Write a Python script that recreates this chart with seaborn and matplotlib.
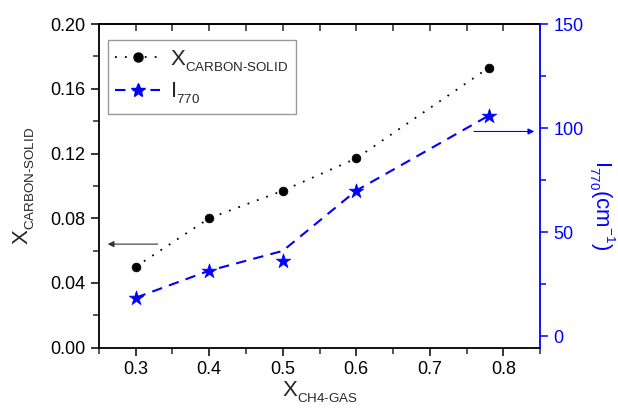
import numpy as np
import pandas as pd
import seaborn as sns
import matplotlib
matplotlib.use("Agg")
import matplotlib.pyplot as plt
from matplotlib.lines import Line2D
from matplotlib.ticker import MultipleLocator, FormatStrFormatter

# smaller, lower subscripts like the reference (Origin style)
try:
    import matplotlib._mathtext as _mt
    _mt.SHRINK_FACTOR = 0.6
    _mt.FontConstantsBase.sub1 = 0.55
    _mt.FontConstantsBase.sub2 = 0.7
    _mt.FontConstantsBase.sup1 = 0.85
except Exception:
    pass

# ---- data ----
x_ch4 = [0.3, 0.4, 0.5, 0.6, 0.78]
x_carbon = [0.050, 0.080, 0.097, 0.117, 0.173]
i770 = [18.5, 31.5, 36.0, 70.0, 106.0]
i770_guide = [18.5, 31.5, 41.0, 70.0, 106.0]   # dashed guide line values

sns.set_style("ticks")
plt.rcParams["font.family"] = ["Liberation Sans", "DejaVu Sans"]
plt.rcParams["mathtext.fontset"] = "custom"
plt.rcParams["mathtext.rm"] = "Liberation Sans"
plt.rcParams["mathtext.it"] = "Liberation Sans"
plt.rcParams["mathtext.bf"] = "Liberation Sans:bold"
plt.rcParams["mathtext.default"] = "regular"

BLUE = "#0000ff"
dot_ls = (0, (1, 4.5))
dash_ls = (0, (5, 3.5))

fig = plt.figure(figsize=(6.18, 4.09), dpi=100)
ax = fig.add_axes([0.160, 0.150, 0.714, 0.791])
ax2 = ax.twinx()

df = pd.DataFrame({"x": x_ch4, "carbon": x_carbon, "i770": i770, "guide": i770_guide})

sns.lineplot(data=df, x="x", y="carbon", ax=ax, color="black", linestyle=dot_ls, lw=1.3)
sns.scatterplot(data=df, x="x", y="carbon", ax=ax, color="black", marker="o", s=40,
                edgecolor="black", linewidth=0.5, zorder=5)
sns.lineplot(data=df, x="x", y="guide", ax=ax2, color=BLUE, linestyle=dash_ls, lw=1.5)
sns.scatterplot(data=df, x="x", y="i770", ax=ax2, color=BLUE, marker="*", s=120,
                edgecolor=BLUE, linewidth=0.5, zorder=5)

# limits & ticks
ax.set_xlim(0.25, 0.85)
ax.set_ylim(0.0, 0.20)
ax2.set_ylim(-5.5, 150)
ax.xaxis.set_major_locator(MultipleLocator(0.1))
ax.xaxis.set_minor_locator(MultipleLocator(0.05))
ax.xaxis.set_major_formatter(FormatStrFormatter("%.1f"))
ax.yaxis.set_major_locator(MultipleLocator(0.04))
ax.yaxis.set_minor_locator(MultipleLocator(0.02))
ax.yaxis.set_major_formatter(FormatStrFormatter("%.2f"))
ax2.yaxis.set_major_locator(MultipleLocator(50))
ax2.yaxis.set_minor_locator(MultipleLocator(25))

ax.tick_params(axis="both", which="major", direction="out", length=6, width=1.1,
               labelsize=13, colors="black")
ax.tick_params(axis="both", which="minor", direction="out", length=4, width=1.1)
ax2.tick_params(axis="y", which="major", direction="out", length=6, width=1.1,
                labelsize=13, colors=BLUE)
ax2.tick_params(axis="y", which="minor", direction="out", length=4, width=1.1, colors=BLUE)

# top axis ticks pointing inward, no labels
sec = ax.secondary_xaxis("top")
sec.xaxis.set_major_locator(MultipleLocator(0.1))
sec.xaxis.set_minor_locator(MultipleLocator(0.05))
sec.tick_params(axis="x", which="both", direction="in", length=5, width=1.1, labeltop=False)
sec.spines["top"].set_linewidth(1.3)

for s in ["left", "bottom", "top"]:
    ax.spines[s].set_visible(True)
    ax.spines[s].set_linewidth(1.3)
    ax.spines[s].set_color("black")
ax.spines["right"].set_visible(False)
ax2.spines["left"].set_visible(False)
ax2.spines["top"].set_visible(False)
ax2.spines["bottom"].set_visible(False)
ax2.spines["right"].set_visible(True)
ax2.spines["right"].set_color(BLUE)
ax2.spines["right"].set_linewidth(1.3)

# labels
ax.set_xlabel(r"$X_{CH4\text{-}GAS}$", fontsize=16, labelpad=1)
ax.set_ylabel(r"$X_{CARBON\text{-}SOLID}$", fontsize=16, labelpad=10)
ax2.set_ylabel(r"$I_{770}(cm^{-1})$", fontsize=16, color=BLUE, rotation=270, labelpad=24)
ax2.yaxis.label.set_y(0.44)

# arrows pointing to the respective axes
ax.annotate("", xy=(0.262, 0.064), xytext=(0.33, 0.064),
            arrowprops=dict(arrowstyle="-|>", color="#333333", lw=0.8,
                            mutation_scale=9, shrinkA=0, shrinkB=0))
ax2.annotate("", xy=(0.842, 98.4), xytext=(0.76, 98.4),
             arrowprops=dict(arrowstyle="-|>", color=BLUE, lw=0.8,
                             mutation_scale=9, shrinkA=0, shrinkB=0))

# legend
handles = [
    Line2D([], [], color="black", linestyle=dot_ls, lw=1.3, marker="o", ms=6.5,
           markeredgecolor="black"),
    Line2D([], [], color=BLUE, linestyle=dash_ls, lw=1.5, marker="*", ms=10,
           markeredgecolor=BLUE),
]
labels = [r"$X_{CARBON\text{-}SOLID}$", r"$I_{770}$"]
leg = ax.legend(handles, labels, loc="upper left", bbox_to_anchor=(0.02, 0.95),
                fontsize=16, frameon=True, fancybox=False, framealpha=1,
                edgecolor="#999999", handlelength=2.0, handletextpad=0.45,
                borderpad=0.35, labelspacing=0.3, borderaxespad=0)
leg.get_frame().set_linewidth(1.0)
leg.set_zorder(10)

fig.savefig("out.png", dpi=100)
